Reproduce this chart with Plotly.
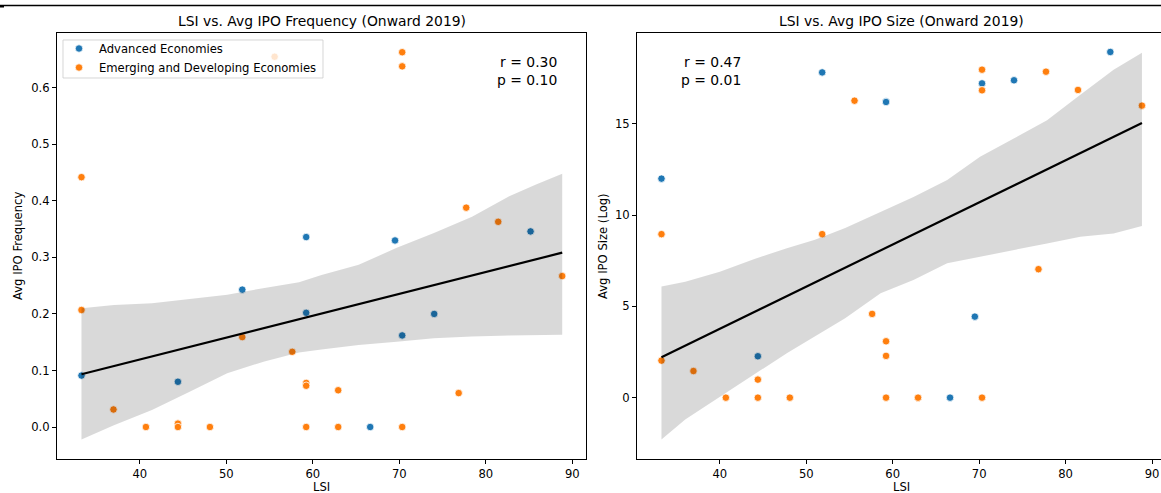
import numpy as np
import plotly.graph_objects as go

# ---------------- data ----------------
lsi_adv = [33.25, 44.4, 51.84, 59.23, 59.23, 66.63, 69.5, 70.33, 74.03, 85.17]
freq_adv = [0.091, 0.080, 0.243, 0.336, 0.202, 0.0, 0.330, 0.162, 0.200, 0.346]
size_adv = [12.0, 2.27, 17.82, 16.23, 16.2, 0.0, 4.44, 17.22, 17.39, 18.94]

lsi_emg = [33.25, 33.25, 36.95, 40.7, 44.4, 44.4, 48.1, 51.84, 55.58, 57.62, 59.23,
           59.23, 59.23, 62.93, 62.93, 70.33, 70.33, 70.33, 76.86, 77.73, 81.43, 88.83]
freq_emg = [0.442, 0.207, 0.031, 0.0, 0.006, 0.0, 0.0, 0.159, 0.655, 0.133, 0.078,
            0.073, 0.0, 0.065, 0.0, 0.663, 0.638, 0.0, 0.060, 0.388, 0.363, 0.267]
size_emg = [8.96, 2.03, 1.46, 0.0, 0.99, 0.0, 0.0, 8.96, 16.27, 4.59, 3.09,
            2.29, 0.0, 0.0, 0.0, 17.97, 16.84, 0.0, 7.04, 17.86, 16.86, 16.0]

# 95% confidence band of the regression (bootstrap band)
band_x_freq = [33.25, 37.0, 41.4, 45.7, 50.1, 54.4, 58.4, 61.0, 65.3, 69.7, 74.0, 78.4, 82.7, 85.8, 88.83]
band_hi_freq = [0.210, 0.216, 0.219, 0.227, 0.234, 0.246, 0.256, 0.269, 0.287, 0.317, 0.343, 0.372, 0.408, 0.429, 0.448]
band_lo_freq = [-0.022, 0.003, 0.030, 0.062, 0.095, 0.116, 0.132, 0.137, 0.145, 0.151, 0.157, 0.160, 0.162, 0.163, 0.163]

band_x_size = [33.25, 36.0, 40.0, 44.0, 47.75, 51.0, 54.5, 58.6, 62.4, 66.3, 70.1, 74.0, 77.85, 81.7, 85.55, 88.83]
band_hi_size = [6.09, 6.35, 6.9, 7.6, 8.19, 8.65, 9.3, 10.19, 11.0, 11.93, 13.2, 14.2, 15.2, 16.6, 17.96, 18.9]
band_lo_size = [-2.29, -1.2, 0.05, 1.28, 2.43, 3.35, 4.35, 5.72, 6.45, 7.36, 7.72, 8.09, 8.45, 8.82, 9.0, 9.4]

group_names = ["Advanced Economies", "Emerging and Developing Economies"]
titles = ["LSI vs. Avg IPO Frequency (Onward 2019)", "LSI vs. Avg IPO Size (Onward 2019)"]
ylabels = ["Avg IPO Frequency", "Avg IPO Size (Log)"]
xlabel = "LSI"
stat_texts = ["r = 0.30<br>p = 0.10", "r = 0.47<br>p = 0.01"]

BLUE = "#1f77b4"
ORANGE = "#ff7f0e"
FONT = "DejaVu Sans"
W, H = 1161, 493


def px_x(p):
    return p / W


def px_y(p):
    return 1 - p / H


def fit_line(x, y):
    x = np.asarray(x, float)
    y = np.asarray(y, float)
    b, a = np.polyfit(x, y, 1)
    xs = np.linspace(x.min(), x.max(), 100)
    return xs, a + b * xs


fig = go.Figure()

panels = [
    (freq_adv, freq_emg, band_x_freq, band_lo_freq, band_hi_freq, "x", "y"),
    (size_adv, size_emg, band_x_size, band_lo_size, band_hi_size, "x2", "y2"),
]

for i, (ya, ye, bx, blo, bhi, xa, yax) in enumerate(panels):
    for lsi, vals, col, name in [(lsi_adv, ya, BLUE, group_names[0]),
                                 (lsi_emg, ye, ORANGE, group_names[1])]:
        fig.add_trace(go.Scatter(
            x=lsi, y=vals, mode="markers", name=name,
            marker=dict(color=col, size=7.5, line=dict(color="white", width=0.8)),
            xaxis=xa, yaxis=yax, showlegend=(i == 0), legendgroup=name,
        ))
    fig.add_trace(go.Scatter(
        x=list(bx) + list(bx)[::-1], y=list(bhi) + list(blo)[::-1],
        fill="toself", fillcolor="rgba(0,0,0,0.15)", line=dict(width=0),
        mode="lines", hoverinfo="skip", showlegend=False, xaxis=xa, yaxis=yax,
    ))
    xs, yh = fit_line(lsi_adv + lsi_emg, list(ya) + list(ye))
    fig.add_trace(go.Scatter(
        x=xs, y=yh, mode="lines", line=dict(color="black", width=2.2),
        showlegend=False, xaxis=xa, yaxis=yax,
    ))

axis_common = dict(
    showline=True, linecolor="black", linewidth=1, ticks="outside", ticklen=4,
    tickwidth=1, tickcolor="black", showgrid=False, zeroline=False,
    tickfont=dict(family=FONT, size=11.6, color="black"),
)

ytop, ybot = 33, 459
ydom = [px_y(ybot), px_y(ytop)]

fig.update_layout(
    width=W, height=H,
    margin=dict(l=0, r=0, t=0, b=0),
    paper_bgcolor="white", plot_bgcolor="white",
    font=dict(family=FONT, color="black"),
    xaxis=dict(domain=[px_x(57), px_x(586)], range=[30.42, 91.58], dtick=10,
               tick0=0, mirror=True, anchor="y", **axis_common),
    yaxis=dict(domain=ydom, range=[-0.0566, 0.697], dtick=0.1, tick0=0,
               tickformat=".1f", mirror=True, anchor="x", **axis_common),
    xaxis2=dict(domain=[px_x(637), 1.0], range=[30.42, 30.42 + 524 / 8.645],
                dtick=10, tick0=0, mirror=True, anchor="y2", **axis_common),
    yaxis2=dict(domain=ydom, range=[-3.36, 19.98], dtick=5, tick0=0,
                mirror=False, anchor="x2", **axis_common),
    legend=dict(
        x=px_x(59), y=px_y(34), xanchor="left", yanchor="top",
        bgcolor="rgba(0,0,0,0)", borderwidth=0,
        font=dict(family=FONT, size=11.6, color="black"),
        itemsizing="trace", tracegroupgap=0,
    ),
    showlegend=True,
)

anns = []
for cx, title in [((57 + 586) / 2, titles[0]), ((637 + 1165) / 2, titles[1])]:
    anns.append(dict(text=title, x=px_x(cx), y=px_y(21), xref="paper", yref="paper",
                     xanchor="center", yanchor="middle", showarrow=False,
                     font=dict(family=FONT, size=13.9, color="black")))
    anns.append(dict(text=xlabel, x=px_x(cx), y=px_y(487), xref="paper", yref="paper",
                     xanchor="center", yanchor="middle", showarrow=False,
                     font=dict(family=FONT, size=11.6, color="black")))
for lx, lab in [(18, ylabels[0]), (603, ylabels[1])]:
    anns.append(dict(text=lab, x=px_x(lx), y=px_y(246), xref="paper", yref="paper",
                     xanchor="center", yanchor="middle", showarrow=False, textangle=-90,
                     font=dict(family=FONT, size=11.6, color="black")))
for rx, txt in [(559, stat_texts[0]), (743, stat_texts[1])]:
    anns.append(dict(text=txt, x=px_x(rx), y=px_y(52), xref="paper", yref="paper",
                     xanchor="right", yanchor="top", align="right", showarrow=False,
                     font=dict(family=FONT, size=13.9, color="black")))
fig.update_layout(annotations=anns)

fig.update_layout(shapes=[
    dict(type="line", xref="paper", yref="paper", x0=0, x1=1, y0=px_y(5.5), y1=px_y(5.5),
         line=dict(color="black", width=1.3)),
    dict(type="line", xref="paper", yref="paper", x0=0, x1=px_x(4), y0=px_y(6.5), y1=px_y(6.5),
         line=dict(color="black", width=2)),
    # legend frame (semi-transparent, like matplotlib's framealpha=0.8)
    dict(type="rect", xref="paper", yref="paper", layer="above",
         x0=px_x(63), x1=px_x(323), y0=px_y(78), y1=px_y(40),
         fillcolor="rgba(255,255,255,0.8)", line=dict(color="rgba(204,204,204,0.8)", width=1)),
])

fig.write_html("out.html")
